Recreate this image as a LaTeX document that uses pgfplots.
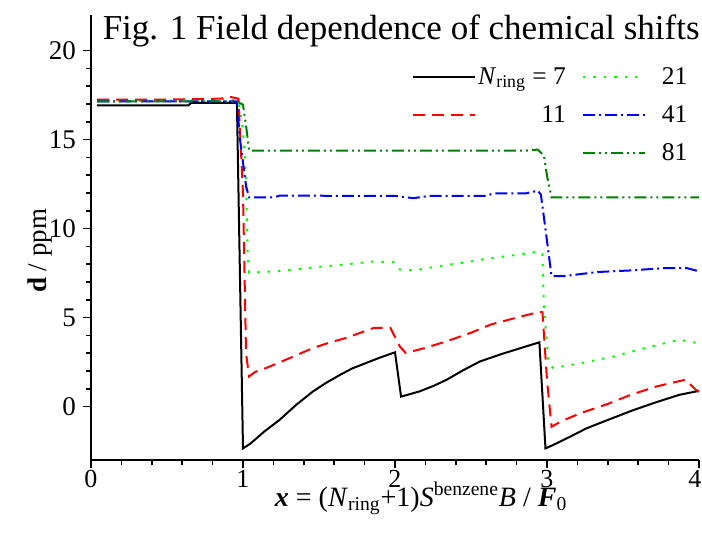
\documentclass[border=0pt]{standalone}
\usepackage{fontspec}
\setmainfont{Liberation Serif}
\usepackage{pgfplots}
\pgfplotsset{compat=1.18}

\definecolor{dgreen}{RGB}{0,128,0}
\definecolor{lgreen}{RGB}{0,255,0}

\begin{document}
\begin{tikzpicture}
\begin{axis}[
    scale only axis,
    width=304pt, height=222.5pt,
    at={(0,0)}, anchor=south west,
    xmin=0, xmax=4,
    ymin=-3, ymax=22,
    axis x line=bottom, axis y line=left,
    axis line style={-, line width=1pt},
    xtick={0,1,2,3,4},
    xticklabels={0,1,2,3,\hspace*{-4pt}4},
    ytick={0,5,10,15,20},
    minor x tick num=4,
    minor y tick num=4,
    tick align=outside,
    major tick length=4pt,
    minor tick length=2.5pt,
    every tick/.style={black, line width=0.8pt},
    /pgf/number format/assume math mode=true,
    ticklabel style={font=\fontsize{13.5}{13.5}\selectfont},
    xticklabel style={font=\fontsize{13}{13}\selectfont, yshift=2.5pt},
    xlabel={\textbf{\textit{x}} = (\textit{N}\textsubscript{ring}+1)\textit{S}\textsuperscript{benzene}\textit{B} / \textbf{\textit{F}}\textsubscript{0}},
    xlabel style={at={(axis description cs:0.543,0)}, anchor=base, yshift=-23pt, font=\fontsize{14}{14}\selectfont},
    ylabel={\textbf{d} / ppm},
    ylabel style={at={(axis description cs:-0.0839,0.47)}, anchor=center, font=\fontsize{13.5}{13.5}\selectfont},
    legend columns=2,
    legend cell align=right,
    legend image code/.code={\draw[#1] (0pt,0pt) -- (31pt,0pt);},
    legend style={draw=none, fill=none, at={(axis description cs:0.985,0.895)}, anchor=north east,
        font=\fontsize{12.75}{12.75}\selectfont, inner sep=0pt,
        nodes={inner sep=1pt, text height=10pt, text depth=3pt},
        row sep=4pt, column sep=0pt,
        /tikz/every even column/.append style={column sep=7pt}},
    clip=false,
]
\addplot[color=black, line width=1pt] coordinates {
(0.04,16.92)(0.64,16.92)(0.66,17.07)(0.96,17.07)(1.0,-2.35)(1.05,-2.07)(1.14,-1.4)(1.24,-0.75)
(1.35,0.1)(1.46,0.85)(1.55,1.35)(1.64,1.79)(1.72,2.15)(1.81,2.45)(1.9,2.75)(2.0,3.05)
(2.04,0.56)(2.16,0.85)(2.25,1.15)(2.34,1.51)(2.45,2.05)(2.56,2.54)(2.7,2.95)(2.85,3.35)
(2.95,3.61)(2.99,-2.35)(3.04,-2.16)(3.15,-1.7)(3.26,-1.22)(3.4,-0.75)(3.57,-0.19)(3.72,0.25)
(3.87,0.66)(3.98,0.85)(4.0,0.85)
};
\addlegendentry{\textit{N}\textsubscript{ring} = 7}
\addplot[color=lgreen, line width=1pt, dash pattern=on 1.2pt off 4pt] coordinates {
(0.04,17.15)(0.7,17.2)(0.85,17.3)(0.97,17.2)(1.0,15.5)(1.02,12.8)(1.03,8.65)(1.04,7.52)
(1.24,7.61)(1.5,7.85)(1.68,7.99)(1.85,8.15)(1.99,8.12)(2.03,7.71)(2.12,7.65)(2.3,7.9)
(2.45,8.09)(2.6,8.3)(2.78,8.5)(2.95,8.71)(2.97,8.6)(2.98,5.64)(3.01,2.45)(3.04,2.17)
(3.2,2.4)(3.44,2.82)(3.65,3.3)(3.87,3.76)(3.98,3.58)(4.0,3.55)
};
\addlegendentry{\hspace{7pt}21}
\addplot[color=red, line width=1pt, dash pattern=on 6pt off 3.5pt] coordinates {
(0.04,17.25)(0.5,17.25)(0.85,17.3)(0.92,17.39)(0.97,17.3)(1.0,12)(1.02,3.0)(1.04,1.69)
(1.08,1.95)(1.15,2.16)(1.3,2.7)(1.46,3.29)(1.57,3.6)(1.68,3.86)(1.86,4.42)(1.97,4.42)
(2.03,3.4)(2.07,3.01)(2.2,3.3)(2.34,3.67)(2.5,4.15)(2.63,4.61)(2.8,5.0)(2.95,5.32)
(2.97,5.3)(3.0,1.5)(3.03,-1.13)(3.1,-0.8)(3.22,-0.37)(3.4,0.15)(3.55,0.66)(3.72,1.13)
(3.91,1.51)(3.98,0.94)(4.0,0.85)
};
\addlegendentry{11}
\addplot[color=blue, line width=1pt, dash pattern=on 6pt off 2pt on 1pt off 2pt] coordinates {
(0.04,17.15)(0.96,17.15)(0.98,15.04)(1.02,12.4)(1.04,11.75)(1.2,11.75)(1.24,11.85)(1.9,11.84)
(2.0,11.84)(2.12,11.71)(2.23,11.84)(2.6,11.84)(2.65,11.98)(2.86,11.98)(2.94,12.13)(2.96,11.9)
(2.99,9.97)(3.03,7.33)(3.11,7.33)(3.33,7.56)(3.55,7.65)(3.77,7.78)(3.92,7.78)(4.0,7.6)
};
\addlegendentry{\hspace{7pt}41}
\addlegendimage{empty legend}
\addlegendentry{}
\addplot[color=dgreen, line width=1pt, dash pattern=on 6pt off 2pt on 1pt off 2pt on 1pt off 2pt] coordinates {
(0.04,17.15)(0.96,17.15)(0.98,17.05)(1.0,16.96)(1.02,15.8)(1.04,14.38)(2.86,14.38)(2.94,14.44)
(2.98,14.1)(3.0,12.97)(3.03,11.75)(4.0,11.75)
};
\addlegendentry{\hspace{7pt}81}
\node[anchor=base east, font=\fontsize{17.5}{17.5}\selectfont, inner sep=0pt]
    at (axis description cs:1.0016,0.944) {Fig. 1 Field dependence of chemical shifts};
\end{axis}
\pgfresetboundingbox
\path (-45.5pt,-38.5pt) rectangle (305.5pt,230pt);
\end{tikzpicture}
\end{document}
